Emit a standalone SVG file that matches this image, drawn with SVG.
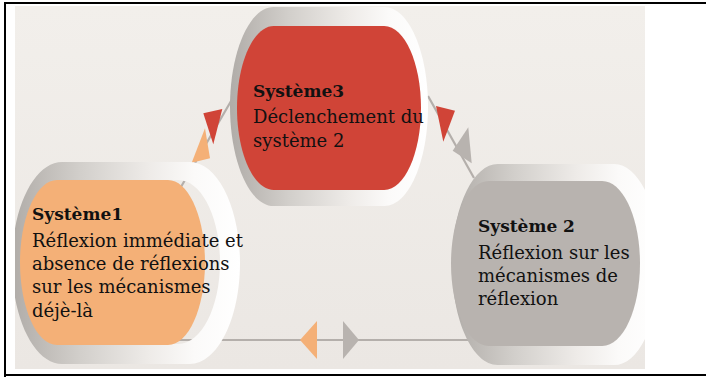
<svg xmlns="http://www.w3.org/2000/svg" width="706" height="377" viewBox="0 0 706 377">
  <defs>
    <style>
      .frame { fill: #000; }
      .link { stroke: #b4afab; stroke-width: 2.2; fill: none; }
      .ring { fill: url(#ringGrad); fill-rule: evenodd; }
      .title { font-family: "DejaVu Serif", "Liberation Serif", serif; font-weight: bold; font-size: 17px; fill: #111; }
      .body { font-family: "DejaVu Serif", "Liberation Serif", serif; font-size: 18px; fill: #111; }
      .red { fill: #d04437; }
      .orange { fill: #f4b077; }
      .grey { fill: #b8b3af; }
    </style>
    <linearGradient id="panelGrad" x1="0" y1="0" x2="0" y2="1">
      <stop offset="0" stop-color="#f2efeb"/>
      <stop offset="1" stop-color="#ebe7e3"/>
    </linearGradient>
    <linearGradient id="ringGrad" x1="0" y1="0" x2="1" y2="0">
      <stop offset="0" stop-color="#b0aca8"/>
      <stop offset="0.3" stop-color="#d2cfcb"/>
      <stop offset="0.6" stop-color="#eeebe8"/>
      <stop offset="0.8" stop-color="#fbfaf9"/>
      <stop offset="1" stop-color="#ffffff"/>
    </linearGradient>
    <clipPath id="panelClip">
      <rect x="15" y="6" width="630" height="363"/>
    </clipPath>
  </defs>

  <!-- page frame -->
  <rect x="0" y="0" width="706" height="377" fill="#fff"/>
  <rect class="frame" x="4" y="2" width="702" height="2"/>
  <rect class="frame" x="4" y="2" width="2" height="376"/>
  <rect class="frame" x="4" y="374" width="702" height="2"/>

  <!-- background panel -->
  <rect x="15" y="6" width="630" height="363" fill="url(#panelGrad)"/>

  <g clip-path="url(#panelClip)">
    <!-- connectors -->
    <g id="connectors">
      <line class="link" x1="175" y1="340" x2="470" y2="340"/>
      <polygon class="orange" points="300,340 317,321 317,359"/>
      <polygon class="grey" points="359,340 343,321 343,359"/>

      <line class="link" x1="178" y1="192" x2="234" y2="96"/>
      <polygon class="red" points="203.3,113.3 222.3,109 213.3,144.3"/>
      <polygon class="orange" points="191.7,162.7 210,158.3 205,128.3"/>

      <line class="link" x1="428" y1="96" x2="474" y2="178"/>
      <polygon class="red" points="436,106 455,110.7 443.3,141.7"/>
      <polygon class="grey" points="468.3,127.3 452.7,150.7 471.7,163.3"/>
    </g>

    <!-- Système3 -->
    <g id="systeme3">
      <path class="ring" d="M273.6,7 H384.4 C408.5,7 428,51.6 428,106.5 C428,161.4 408.5,206 384.4,206 H273.6 C249.5,206 230,161.4 230,106.5 C230,51.6 249.5,7 273.6,7Z"/>
      <path class="red" d="M273.8,26 H384.2 C404.5,26 421,62.7 421,108 C421,153.3 404.5,190 384.2,190 H273.8 C253.5,190 237,153.3 237,108 C237,62.7 253.5,26 273.8,26Z"/>
      <text class="title" x="253" y="97">Système3</text>
      <text class="body" x="253" y="123">Déclenchement du</text>
      <text class="body" x="253" y="147">système 2</text>
    </g>

    <!-- Système1 -->
    <g id="systeme1">
      <path class="ring" d="M62.2,162 H189.8 C217.5,162 240,207.2 240,263 C240,318.8 217.5,364 189.8,364 H62.2 C34.5,364 12,318.8 12,263 C12,207.2 34.5,162 62.2,162Z M71.8,180 H178.2 C201.3,180 220,216.7 220,262 C220,307.3 201.3,344 178.2,344 H71.8 C48.7,344 30,307.3 30,262 C30,216.7 48.7,180 71.8,180Z"/>
      <path class="orange" d="M57,180 H168 C188.4,180 205,217 205,262.5 C205,308 188.4,345 168,345 H57 C36.6,345 20,308 20,262.5 C20,217 36.6,180 57,180Z"/>
      <text class="title" x="32" y="220">Système1</text>
      <text class="body" x="32" y="247">Réflexion immédiate et</text>
      <text class="body" x="32" y="270">absence de réflexions</text>
      <text class="body" x="32" y="293">sur les mécanismes</text>
      <text class="body" x="32" y="317">déjè-là</text>
    </g>

    <!-- Système 2 -->
    <g id="systeme2">
      <path class="ring" d="M497.8,164 H614.2 C639.5,164 660,209 660,264.5 C660,320 639.5,365 614.2,365 H497.8 C472.5,365 452,320 452,264.5 C452,209 472.5,164 497.8,164Z M505.4,183 H600.6 C621.2,183 638,219.1 638,263.5 C638,307.9 621.2,344 600.6,344 H505.4 C484.8,344 468,307.9 468,263.5 C468,219.1 484.8,183 505.4,183Z"/>
      <path class="grey" d="M488.8,181 H602.2 C623.1,181 640,218 640,263.5 C640,309 623.1,346 602.2,346 H488.8 C467.9,346 451,309 451,263.5 C451,218 467.9,181 488.8,181Z"/>
      <text class="title" x="478" y="232">Système 2</text>
      <text class="body" x="478" y="259">Réflexion sur les</text>
      <text class="body" x="478" y="282">mécanismes de</text>
      <text class="body" x="478" y="305">réflexion</text>
    </g>
  </g>
</svg>
